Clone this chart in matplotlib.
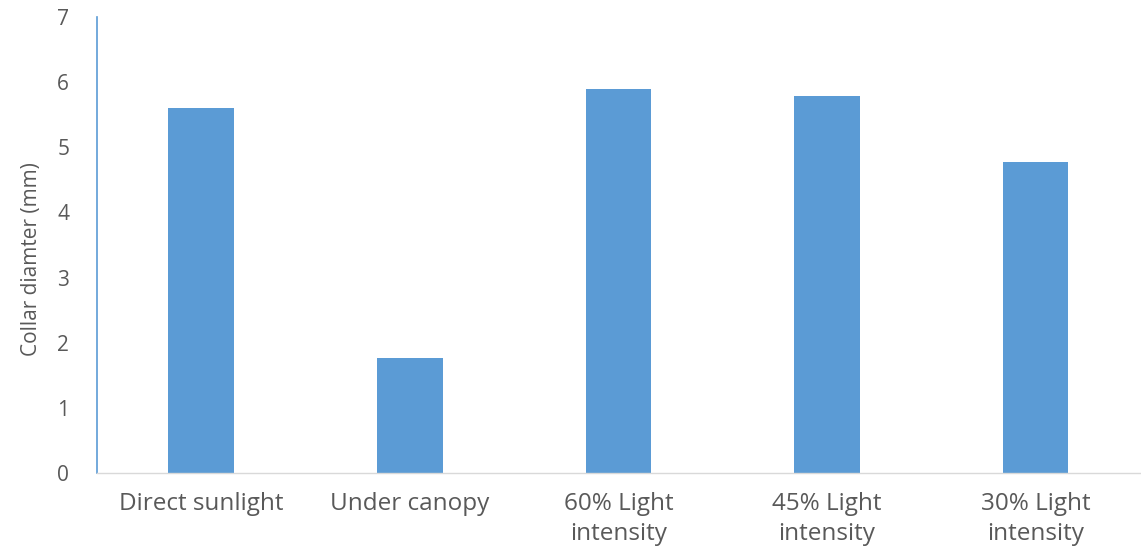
import numpy as np
import matplotlib
matplotlib.use('Agg')
import matplotlib.pyplot as plt

categories = ['Direct sunlight', 'Under canopy', '60% Light\nintensity',
              '45% Light\nintensity', '30% Light\nintensity']
diameter = [5.6, 1.76, 5.9, 5.79, 4.78]

plt.rcParams['font.family'] = ['Open Sans', 'DejaVu Sans']
grey = '#595959'
blue = '#5b9bd5'

fig = plt.figure(figsize=(11.41, 5.48), dpi=100)
ax = fig.add_axes([0.085, 0.137, 0.914, 0.832])

x = np.arange(len(categories))
ax.bar(x, diameter, width=0.315, color=blue)

ax.set_xlim(-0.5, len(categories) - 0.5)
ax.set_ylim(0, 7)
ax.set_yticks(range(0, 8))
ax.set_xticks(x)
ax.set_xticklabels(categories, fontsize=17.5, color=grey, linespacing=1.3)
ax.tick_params(axis='y', labelsize=15, labelcolor=grey, length=0, pad=20)
ax.tick_params(axis='x', length=0, pad=14)

ax.set_ylabel('Collar diamter (mm)', fontsize=15, color=grey,
              labelpad=11, y=0.47)

for s in ['top', 'right']:
    ax.spines[s].set_visible(False)
ax.spines['left'].set_color(blue)
ax.spines['left'].set_linewidth(1.2)
ax.spines['bottom'].set_color('#d9d9d9')
ax.spines['bottom'].set_linewidth(1.0)

fig.savefig('out.png', dpi=100)
